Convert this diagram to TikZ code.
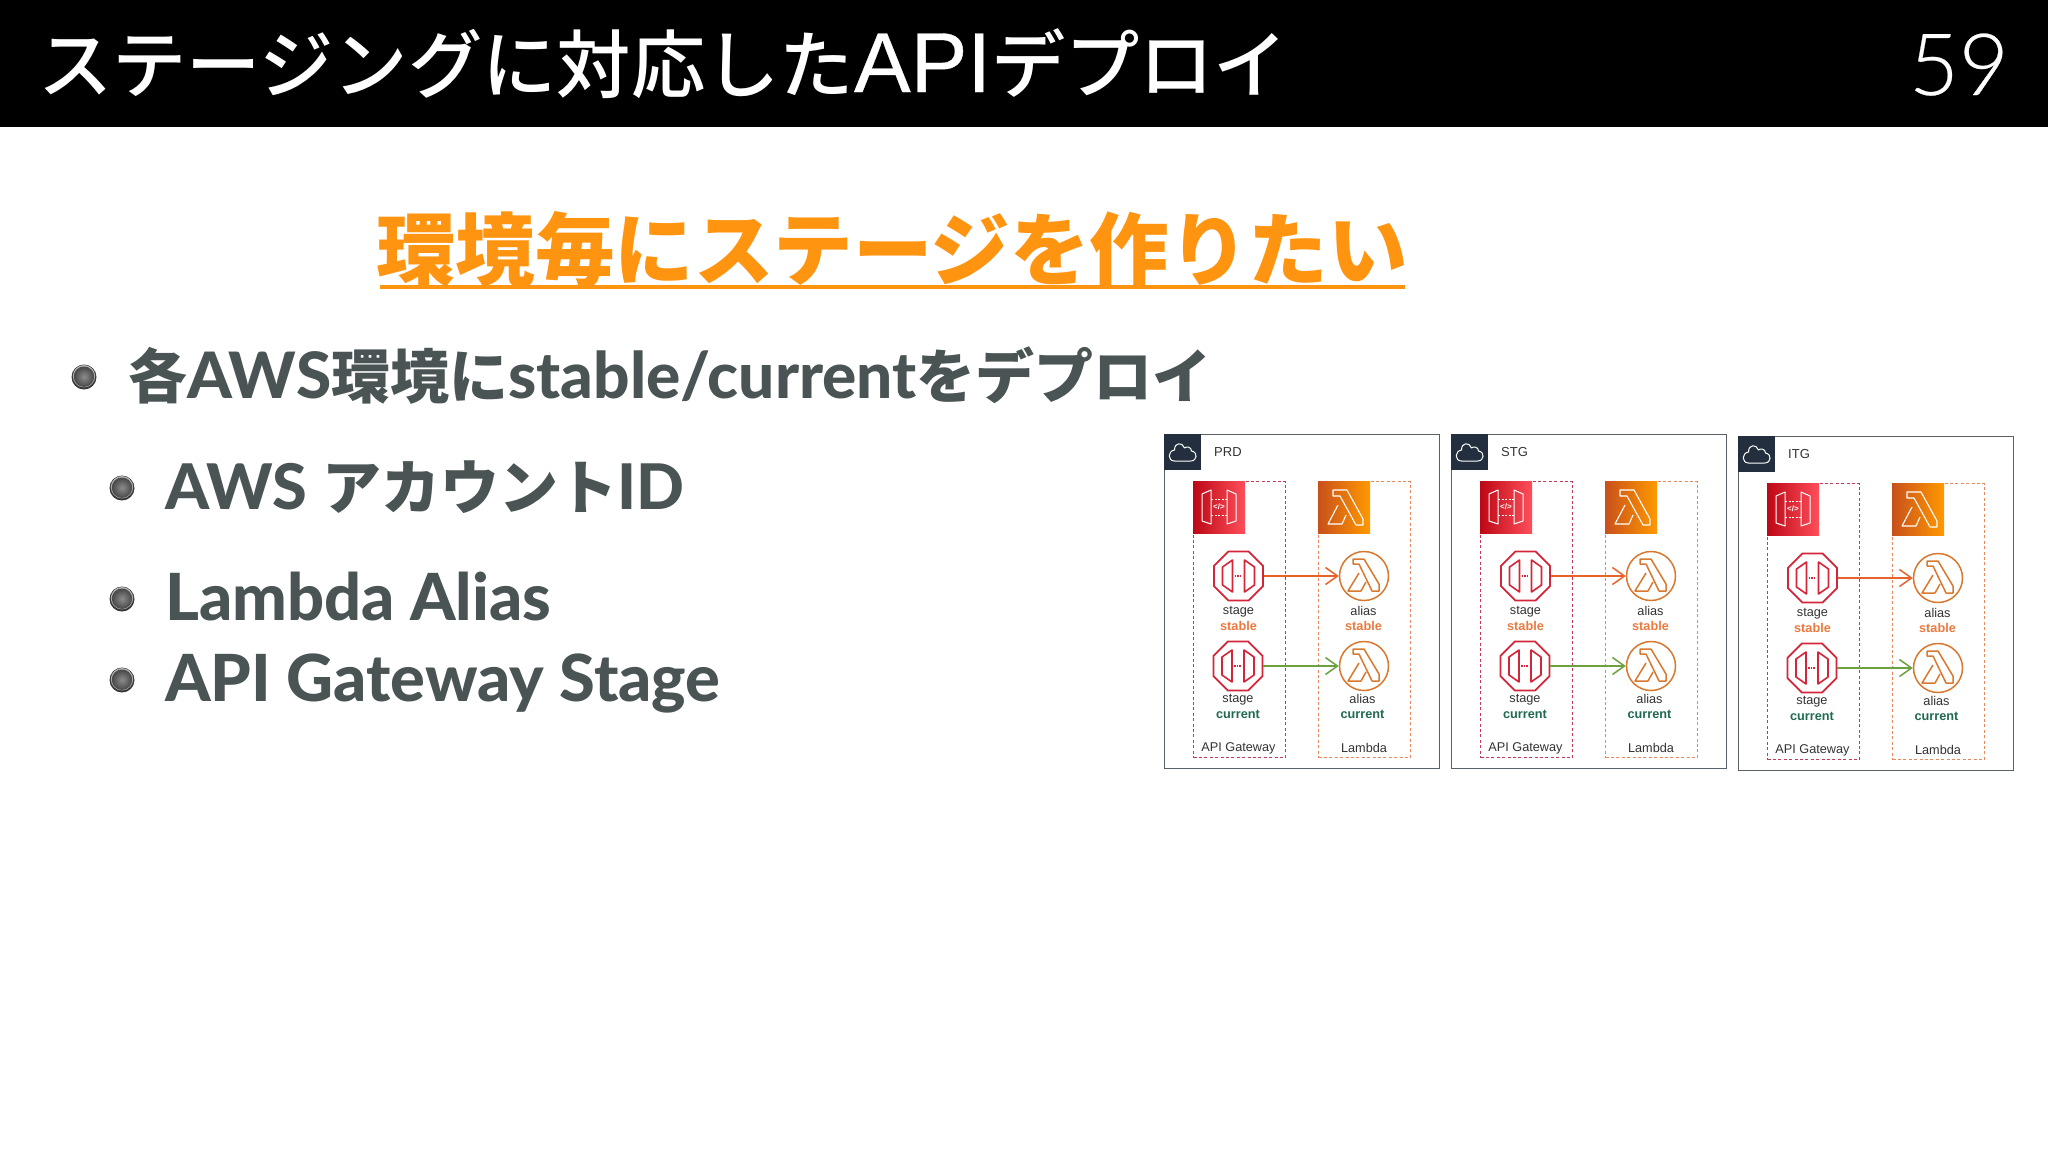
\documentclass[tikz,border=0pt]{standalone}
\usepackage{fontspec}
\usetikzlibrary{arrows.meta,shapes.geometric,positioning}
\newfontfamily\jpf{Noto Sans CJK JP}
\newfontfamily\jpm{Noto Sans CJK JP Medium}
\newfontfamily\latf{Lato Heavy}
\newfontfamily\dgmf{Liberation Sans}
\newfontfamily\apif{Liberation Sans}[FakeBold=0.4]
\newfontfamily\numf{Lato Light}[FakeBold=0.3]
\definecolor{headerblack}{HTML}{000000}
\definecolor{headorange}{HTML}{FF9410}
\definecolor{bodygrey}{HTML}{4A5454}
\definecolor{awsnavy}{HTML}{232F3E}
\definecolor{framegrey}{HTML}{5A6068}
\definecolor{gwred}{HTML}{D4263A}
\definecolor{gwdash}{HTML}{C23A55}
\definecolor{gwleft}{HTML}{BD0816}
\definecolor{gwright}{HTML}{FF4F5B}
\definecolor{lamleft}{HTML}{C8511B}
\definecolor{lamright}{HTML}{FF9900}
\definecolor{lamorange}{HTML}{D9782F}
\definecolor{lamdash}{HTML}{E8875C}
\definecolor{stablec}{HTML}{EC7A3F}
\definecolor{currentc}{HTML}{1F6A50}
\definecolor{arrowor}{HTML}{E8632A}
\definecolor{arrowgr}{HTML}{6CA040}
\tikzset{
  framebox/.style={draw=framegrey,line width=1.2pt,fill=white,minimum width=275pt,minimum height=333.5pt,anchor=north west,inner sep=0pt},
  navybox/.style={fill=awsnavy,minimum width=37pt,minimum height=36pt,anchor=north west,inner sep=0pt},
  dashbox/.style={line width=1.1pt,dash pattern=on 3pt off 2.4pt,minimum width=92pt,minimum height=276pt,anchor=north west,inner sep=0pt},
  gwicon/.style={left color=gwleft,right color=gwright,minimum size=52pt,anchor=north west,inner sep=0pt},
  lamicon/.style={left color=lamleft,right color=lamright,minimum size=52pt,anchor=north west,inner sep=0pt},
  octa/.style={regular polygon,regular polygon sides=8,draw=gwred,line width=1.7pt,minimum size=53pt,inner sep=0pt},
  lamcirc/.style={circle,draw=lamorange,line width=1.5pt,minimum size=49pt,inner sep=0pt},
  lbl/.style={font=\dgmf\fontsize{12.7}{14}\selectfont,text=black!80,inner sep=0pt},
  lblstable/.style={font=\dgmf\bfseries\fontsize{12.7}{14}\selectfont,text=stablec,inner sep=0pt},
  lblcurrent/.style={font=\dgmf\bfseries\fontsize{12.7}{14}\selectfont,text=currentc,inner sep=0pt},
  flow/.style={line width=1.6pt,-{Straight Barb[length=12pt,width=17pt,line width=1.5pt]}},
  gwline/.style={draw=gwred,line width=1.6pt,line join=round},
  lamline/.style={draw=lamorange,line width=1.5pt,line join=round},
  whiteline/.style={draw=white,line width=1pt,line join=round},
  bodytext/.style={anchor=base west,inner sep=0pt,text=bodygrey}
}
\newcommand{\doorsat}[1]{%
  \begin{scope}[shift={(#1)}]
    \draw[gwline] (-6,-16) -- (-16,-9) -- (-16,9) -- (-6,16) -- cycle;
    \draw[gwline] (6,-16) -- (16,-9) -- (16,9) -- (6,16) -- cycle;
    \draw[gwline,line width=1.5pt,dash pattern=on 1.5pt off 1.2pt] (-4,0) -- (4,0);
  \end{scope}}
\newcommand{\lambdaat}[1]{%
  \begin{scope}[shift={(#1)}]
    \draw[lamline] (-11,-17) -- (0,-17) -- (15,8) -- (15,15) -- (8,15) -- (-5,-12) -- (-11,-12) -- cycle;
    \draw[lamline] (-5,-3) -- (-16,15) -- (-3,15) -- (2,6);
  \end{scope}}
\newcommand{\envpanel}[4]{%
  \begin{scope}[shift={(#3,#4)}]
    \node[framebox] (#1frame) at (1164,434) {};
    \node[navybox] (#1navy) at (1164,434) {};
    \begin{scope}[shift={(1182.5,452)}]
      \draw[white,line width=1pt,line join=round] (-8,9) -- (8,9) .. controls (15,9) and (15.5,0) .. (9,-1) .. controls (9,-5) and (4,-6) .. (2,-4) .. controls (0,-10) and (-8,-10) .. (-8,-2) .. controls (-15,-1) and (-15,9) .. (-8,9) -- cycle;
    \end{scope}
    \node[lbl,anchor=west] (#1name) at (1214,452) {\fontsize{13}{15}\selectfont #2};
    \node[dashbox,draw=gwdash] (#1gwbox) at (1193,481) {};
    \node[dashbox,draw=lamdash] (#1lambox) at (1318,481) {};
    \node[gwicon] (#1gwicon) at (1193,481) {};
    \node[lamicon] (#1lamicon) at (1318,481) {};
    \begin{scope}[shift={(1219,507)}]
      \draw[whiteline] (-17,-13) -- (-8,-17) -- (-8,17) -- (-17,14) -- cycle;
      \draw[whiteline] (8,-17) -- (17,-13) -- (17,14) -- (8,17) -- cycle;
      \draw[whiteline,dash pattern=on 2pt off 1.5pt] (-8,-8) -- (8,-8);
      \draw[whiteline,dash pattern=on 2pt off 1.5pt] (-8,8) -- (8,8);
      \node[text=white,font=\dgmf\bfseries\fontsize{8}{8}\selectfont,inner sep=0pt] (#1code) at (0,0) {</>};
    \end{scope}
    \begin{scope}[shift={(1344,507)}]
      \draw[white,line width=1.1pt,line join=round] (-11,-17) -- (3,-17) -- (19,12) -- (19,18) -- (12,18) -- (-4,-11) -- (-11,-11) -- cycle;
      \draw[white,line width=1.1pt,line join=round] (-6,-2) -- (-16,17) -- (-2,17) -- (2,8);
    \end{scope}
    \node[octa] (#1st) at (1238.5,576) {};
    \node[octa] (#1sc) at (1238,666) {};
    \node[lamcirc] (#1at) at (1364,576) {};
    \node[lamcirc] (#1ac) at (1364,666) {};
    \doorsat{1238.5,576}
    \doorsat{1238,666}
    \lambdaat{1364,576}
    \lambdaat{1364,666}
    \draw[flow,arrowor] (#1st) -- (#1at);
    \draw[flow,arrowgr] (#1sc) -- (#1ac);
    \node[lbl] (#1l1) at (1238.5,612) {stage};
    \node[lblstable] (#1l2) at (1238.5,625.5) {stable};
    \node[lbl] (#1l3) at (1238,700) {stage};
    \node[lblcurrent] (#1l4) at (1238,714) {current};
    \node[lbl] (#1l5) at (1363.5,611) {alias};
    \node[lblstable] (#1l6) at (1363.5,626) {stable};
    \node[lbl] (#1l7) at (1362.5,699) {alias};
    \node[lblcurrent] (#1l8) at (1362.5,714) {current};
    \node[lbl] (#1l9) at (1238.5,748) {API Gateway};
    \node[lbl] (#1l10) at (1364,748) {Lambda};
  \end{scope}}
\newcommand{\metaldot}[2]{%
  \fill[black!78] (#2) circle (12.5);
  \fill[white!70!black] (#2) ++(0,-0.8) circle (11.2);
  \shade[inner color=black!45,outer color=black!72] (#2) ++(0,-0.3) circle (10.2);
  }
\begin{document}
\begin{tikzpicture}[x=1pt,y=-1pt]
\useasboundingbox (0,0) rectangle (2048,1152);
\fill[white] (0,0) rectangle (2048,1152);
\fill[headerblack] (0,0) rectangle (2048,127);
\node[anchor=base west,inner sep=0pt,text=white,font=\jpm\fontsize{74.3}{80}\selectfont] (title) at (38,92) {ステージングに対応した{\apif\fontsize{85}{80}\selectfont API}デプロイ};
\node[anchor=base east,inner sep=0pt,text=white,font=\numf\fontsize{86}{90}\selectfont] (pagenum) at (2009,95) {59};
\node[anchor=base,inner sep=0pt,text=headorange,font=\jpf\bfseries\fontsize{79.5}{80}\selectfont] (heading) at (892,279) {環境毎にステージを作りたい};
\coordinate (ulstart) at (380,287);
\coordinate (ulend) at (1405,287);
\draw[headorange,line width=3.4pt] (ulstart) -- (ulend);
\metaldot{d1}{84,377}
\metaldot{d2}{122,488}
\metaldot{d3}{122,599}
\metaldot{d4}{122,680}
\node[bodytext] (b1) at (128,398) {\jpf\bfseries\fontsize{59}{60}\selectfont 各{\latf\mdseries\fontsize{64}{60}\selectfont AWS}環境に{\latf\mdseries\fontsize{64}{60}\selectfont stable/current}をデプロイ};
\node[bodytext] (b2) at (165,509) {\latf\fontsize{63}{60}\selectfont AWS {\jpf\bfseries\fontsize{59}{60}\selectfont アカウント}ID};
\node[bodytext] (b3) at (165,620) {\latf\fontsize{65}{60}\selectfont Lambda Alias};
\node[bodytext] (b4) at (165,701) {\latf\fontsize{65}{60}\selectfont API Gateway Stage};
\envpanel{p}{PRD}{0}{0}
\envpanel{s}{STG}{287}{0}
\envpanel{i}{ITG}{574}{2}
\end{tikzpicture}
\end{document}
